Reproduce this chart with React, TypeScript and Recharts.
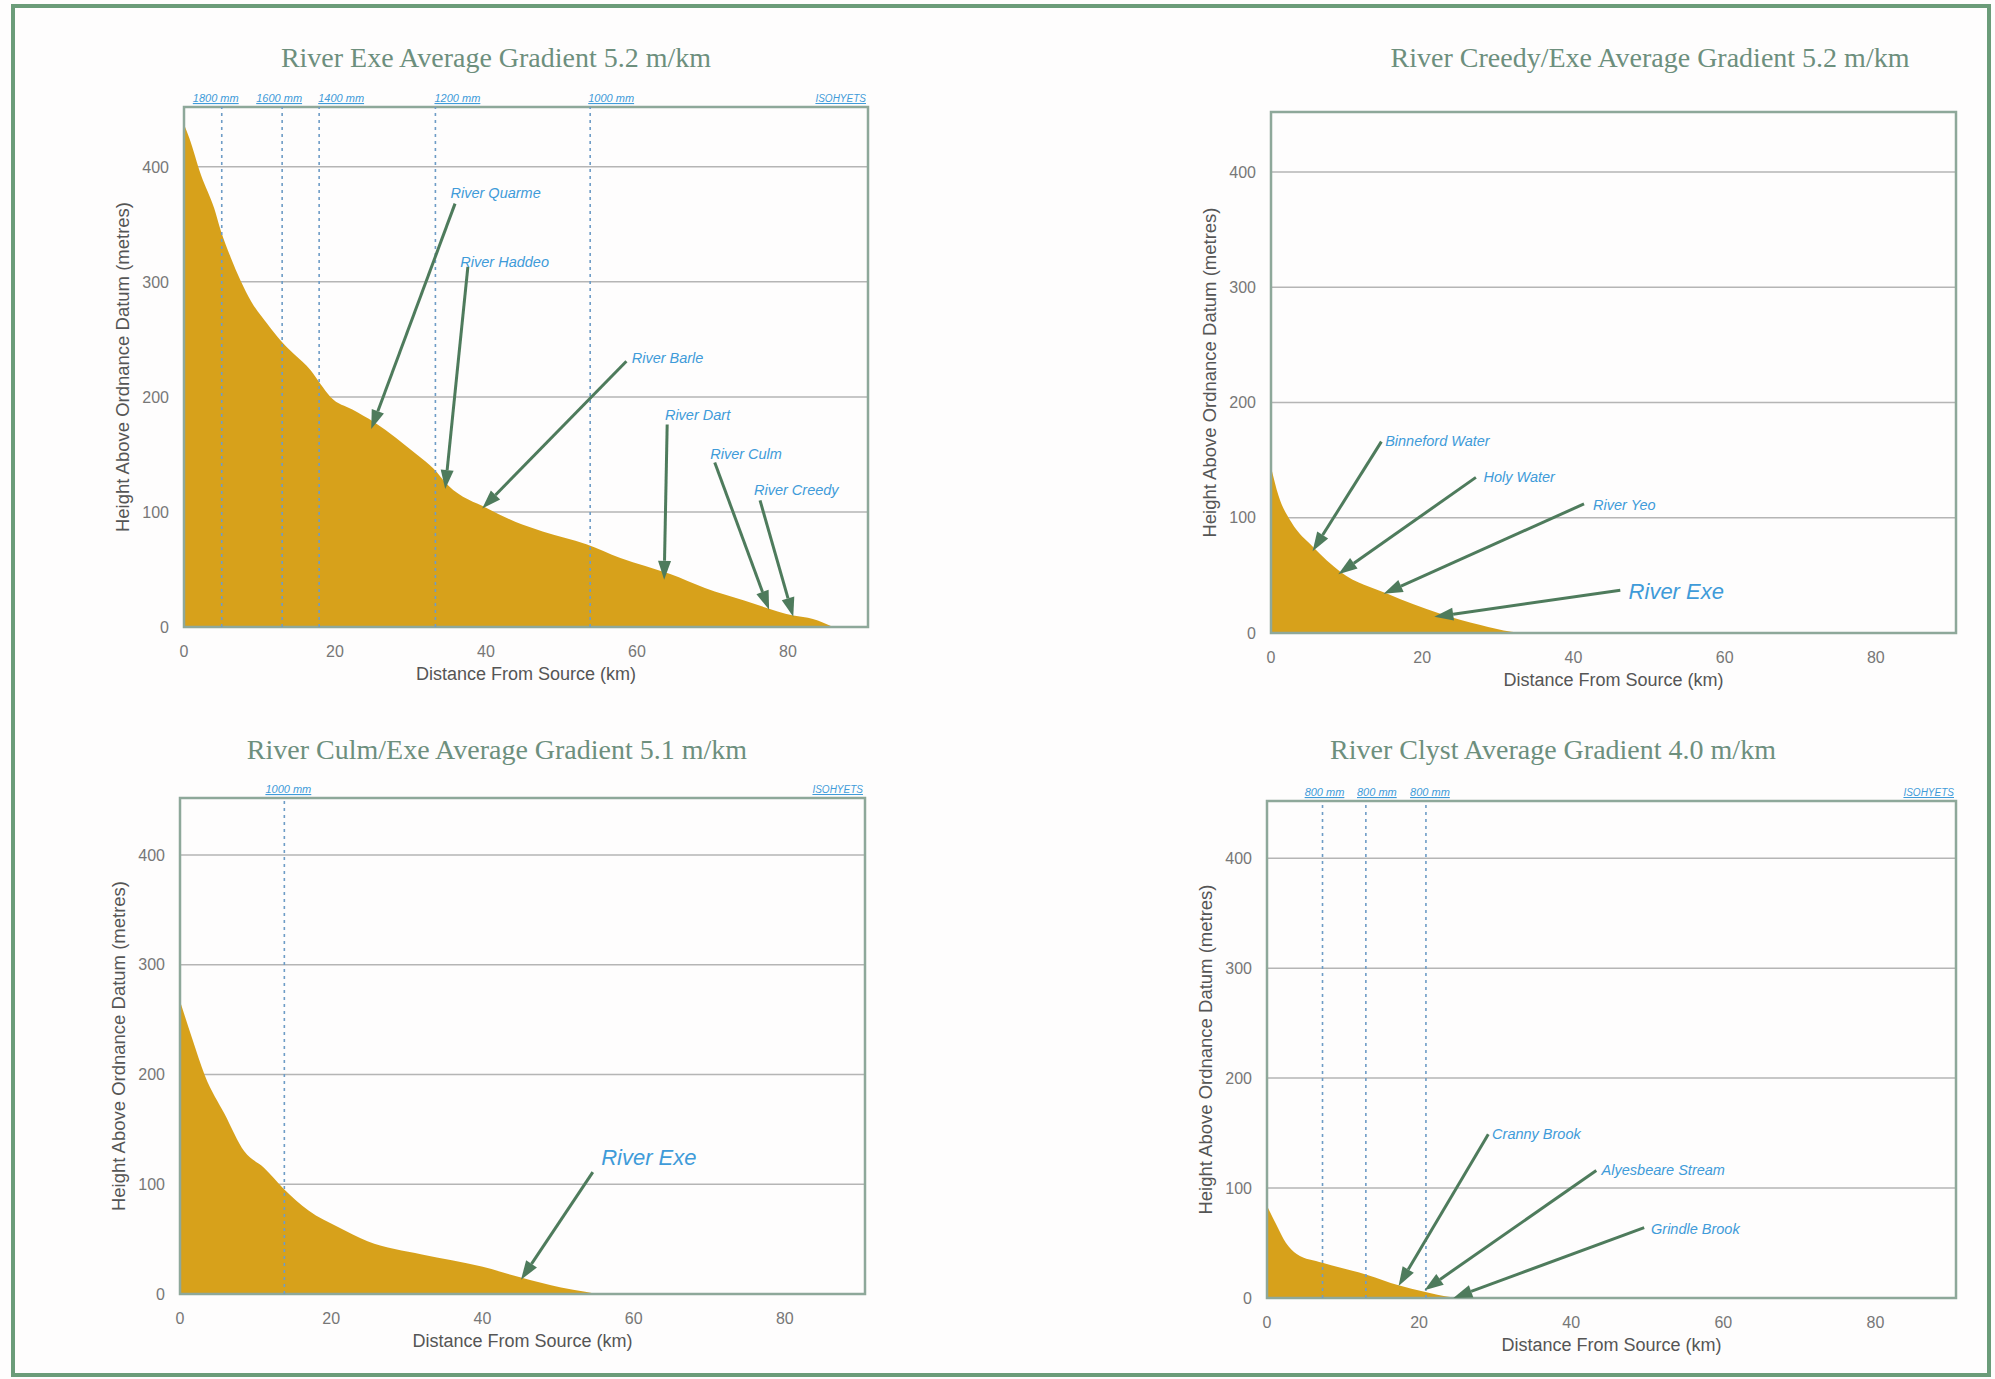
import React from "react";
import {
  AreaChart,
  Area,
  XAxis,
  YAxis,
  CartesianGrid,
  ReferenceLine,
  ReferenceArea,
  ReferenceDot,
} from "recharts";

// shared axes
const X_MAX = 90.6;
const Y_MAX = 452;
const xTicks = [0, 20, 40, 60, 80];
const yTicks = [0, 100, 200, 300, 400];

// River Exe long profile
const exeKm = [0, 0.7, 2.25, 4.0, 4.9, 6.2, 7.5, 8.9, 11.1, 12.8, 14.6, 16.8, 18.1, 19.4, 22.3, 25.2, 31, 33, 35, 40.2, 44.8, 47.5, 53.3, 57.8, 64.4, 69, 74.2, 80.7, 83.3, 84.6, 86];
const exeHeight = [437, 425, 393, 364, 344, 321, 301, 283, 263, 249, 237, 223, 211, 200, 189, 178, 149, 138, 123, 103, 89, 83, 72, 60, 46, 34, 23, 10, 7, 4, 0];
const exeIsoKm = [5.0, 13.0, 17.9, 33.3, 53.8];
const exeIsoText = ["1800 mm", "1600 mm", "1400 mm", "1200 mm", "1000 mm"];
const exeTribs = ["River Quarme", "River Haddeo", "River Barle", "River Dart", "River Culm", "River Creedy"];
const exeTribText = [[35.3, 377], [36.6, 317], [59.3, 234], [63.7, 184], [69.7, 150], [75.5, 119]];
const exeTribFrom = [[35.9, 368], [37.6, 313], [58.6, 231], [64, 176], [70.3, 143], [76.3, 110]];
const exeTribTo = [[24.8, 172], [34.6, 120], [39.5, 103], [63.6, 41], [77.5, 15], [80.7, 9]];

// River Creedy / Exe
const creedyKm = [0, 1, 2.7, 5.5, 9.2, 15.4, 22.3, 27.7, 31.8, 33];
const creedyHeight = [144, 119, 96, 75, 53, 34, 17, 7, 1, 0];
const creedyTribs = ["Binneford Water", "Holy Water", "River Yeo", "River Exe"];
const creedyTribText = [[15.1, 167], [28.1, 135], [42.6, 111], [47.3, 36]];
const creedyTribFrom = [[14.6, 166], [27.1, 135], [41.4, 112], [46.2, 37]];
const creedyTribTo = [[5.5, 71], [8.9, 51], [14.9, 34], [21.6, 14]];

// River Culm / Exe
const culmKm = [0, 1.6, 3.3, 5.9, 8.5, 11.1, 13.7, 17, 20.9, 24.8, 32, 39.9, 45.1, 50.4, 53.6, 55];
const culmHeight = [267, 233, 199, 164, 130, 115, 96, 76, 61, 48, 36, 25, 15, 6, 2, 0];
const culmIsoKm = [13.8];
const culmIsoText = ["1000 mm"];
const culmTribs = ["River Exe"];
const culmTribText = [[55.7, 124]];
const culmTribFrom = [[54.6, 111]];
const culmTribTo = [[45.1, 13]];

// River Clyst
const clystKm = [0, 1.2, 2.5, 3.9, 7.3, 13.2, 17.3, 20.7, 24.1, 26];
const clystHeight = [84, 67, 50, 40, 32, 21, 11.5, 5.7, 1, 0];
const clystIsoKm = [7.3, 13.0, 20.9];
const clystIsoText = ["800 mm", "800 mm", "800 mm"];
const clystTribs = ["Cranny Brook", "Alyesbeare Stream", "Grindle Brook"];
const clystTribText = [[29.6, 149], [44, 116], [50.5, 63]];
const clystTribFrom = [[29.1, 149], [43.3, 116], [49.6, 64]];
const clystTribTo = [[17.3, 11], [20.7, 7], [24.5, 0]];

const SANS = "'Liberation Sans', Arial, sans-serif";
const SERIF = "'Liberation Serif', 'Times New Roman', serif";
const FILL = "#D7A11B";
const FRAME = "#8ea89a";
const BLUE = "#3f9bd9";
const ARROW = "#4e7b5c";

const toRows = (km: number[], h: number[]) => km.map((k, i) => ({ km: k, h: h[i] }));

function Arrow(p: any) {
  const { x1, y1, x2, y2 } = p;
  const a = Math.atan2(y2 - y1, x2 - x1);
  const len = 19;
  const half = 6.5;
  const bx = x2 - len * Math.cos(a);
  const by = y2 - len * Math.sin(a);
  const pts = `${x2},${y2} ${bx - half * Math.sin(a)},${by + half * Math.cos(a)} ${bx + half * Math.sin(a)},${by - half * Math.cos(a)}`;
  return (
    <g>
      <line x1={x1} y1={y1} x2={bx} y2={by} stroke={ARROW} strokeWidth={3} />
      <polygon points={pts} fill={ARROW} />
    </g>
  );
}

interface PanelProps {
  left: number;
  top: number;
  plotW: number;
  plotH: number;
  title: string;
  titleX: number;
  titleY: number;
  km: number[];
  height: number[];
  isoKm?: number[];
  isoText?: string[];
  isoDx?: number[];
  tribs: string[];
  tribText: number[][];
  tribFrom: number[][];
  tribTo: number[][];
  bigLast?: boolean;
}

function Panel({
  left,
  top,
  plotW,
  plotH,
  title,
  titleX,
  titleY,
  km,
  height,
  isoKm = [],
  isoText = [],
  isoDx = [],
  tribs,
  tribText,
  tribFrom,
  tribTo,
  bigLast = false,
}: PanelProps) {
  const data = toRows(km, height);
  const yAxisW = 100;
  const mTop = 40;
  const xAxisH = 70;

  const xTitle = (props: any) => {
    const vb = props.viewBox;
    return (
      <text x={vb.x + vb.width / 2} y={vb.y + 47} textAnchor="middle" dominantBaseline="central" fontSize={18} fontFamily={SANS} fill="#555">
        Distance From Source (km)
      </text>
    );
  };
  const yTitle = (props: any) => {
    const vb = props.viewBox;
    const cx = vb.x + vb.width - 62;
    const cy = vb.y + vb.height / 2;
    return (
      <text x={cx} y={cy} transform={`rotate(-90 ${cx} ${cy})`} textAnchor="middle" dominantBaseline="central" fontSize={18.5} fontFamily={SANS} fill="#555">
        Height Above Ordnance Datum (metres)
      </text>
    );
  };

  return (
    <>
      <div
        style={{
          position: "absolute",
          left: titleX,
          top: titleY,
          transform: "translate(-50%, -50%)",
          whiteSpace: "nowrap",
          fontFamily: SERIF,
          fontSize: 28,
          color: "#6d8f7d",
        }}
      >
        {title}
      </div>
      <div style={{ position: "absolute", left: left - yAxisW, top: top - mTop }}>
        <AreaChart
          width={plotW + yAxisW + 10}
          height={plotH + mTop + xAxisH}
          data={data}
          margin={{ top: mTop, right: 10, bottom: 0, left: 0 }}
        >
          <CartesianGrid vertical={false} stroke="#b5b5b5" strokeWidth={1.5} />
          <XAxis
            type="number"
            dataKey="km"
            domain={[0, X_MAX]}
            ticks={xTicks}
            interval={0}
            height={xAxisH}
            axisLine={false}
            tickLine={false}
            tickMargin={13}
            tick={{ fill: "#777", fontSize: 16, fontFamily: SANS }}
            label={{ content: xTitle }}
          />
          <YAxis
            type="number"
            domain={[0, Y_MAX]}
            ticks={yTicks}
            interval={0}
            width={yAxisW}
            axisLine={false}
            tickLine={false}
            tickMargin={9}
            tick={{ fill: "#777", fontSize: 16, fontFamily: SANS }}
            label={{ content: yTitle }}
          />
          <Area
            type="monotone"
            dataKey="h"
            stroke="none"
            fill={FILL}
            fillOpacity={1}
            isAnimationActive={false}
          />
          {isoKm.map((k, i) => (
            <ReferenceLine
              key={`iso${i}`}
              x={k}
              stroke="#6e9cc6"
              strokeWidth={1.6}
              strokeDasharray="3 4"
              label={{
                content: (p: any) => (
                  <text
                    x={p.viewBox.x + (isoDx[i] || 0)}
                    y={p.viewBox.y - 5}
                    textAnchor="middle"
                    fontSize={11}
                    fontStyle="italic"
                    fontFamily={SANS}
                    fill={BLUE}
                    textDecoration="underline"
                  >
                    {isoText[i]}
                  </text>
                ),
              }}
            />
          ))}
          {isoKm.length > 0 && (
            <ReferenceLine
              x={X_MAX}
              stroke="none"
              label={{
                content: (p: any) => (
                  <text
                    x={p.viewBox.x - 2}
                    y={p.viewBox.y - 5}
                    textAnchor="end"
                    fontSize={10}
                    fontStyle="italic"
                    fontFamily={SANS}
                    fill={BLUE}
                    textDecoration="underline"
                  >
                    ISOHYETS
                  </text>
                ),
              }}
            />
          )}
          <ReferenceArea
            x1={0}
            x2={X_MAX}
            y1={0}
            y2={Y_MAX}
            fill="none"
            fillOpacity={0}
            stroke={FRAME}
            strokeWidth={2.5}
          />
          {tribs.map((name, i) => (
            <ReferenceLine
              key={`arr${i}`}
              segment={[
                { x: tribFrom[i][0], y: tribFrom[i][1] },
                { x: tribTo[i][0], y: tribTo[i][1] },
              ]}
              shape={Arrow}
            />
          ))}
          {tribs.map((name, i) => {
            const big = bigLast && i === tribs.length - 1;
            return (
              <ReferenceDot
                key={`lbl${i}`}
                x={tribText[i][0]}
                y={tribText[i][1]}
                r={0}
                shape={(p: any) => (
                  <text
                    x={p.cx}
                    y={p.cy}
                    dominantBaseline="central"
                    fontSize={big ? 22 : 14.5}
                    fontStyle="italic"
                    fontFamily={SANS}
                    fill={BLUE}
                  >
                    {name}
                  </text>
                )}
              />
            );
          })}
        </AreaChart>
      </div>
    </>
  );
}

export default function App() {
  return (
    <div
      style={{
        position: "relative",
        width: 1995,
        height: 1379,
        background: "#fefdfd",
        overflow: "hidden",
      }}
    >
      <style>{"body{margin:0}"}</style>
      <div
        style={{
          position: "absolute",
          left: 11,
          top: 4,
          width: 1980,
          height: 1373,
          border: "4px solid #6b9c79",
          boxSizing: "border-box",
        }}
      />
      <Panel
        left={184}
        top={107}
        plotW={684}
        plotH={520}
        title="River Exe Average Gradient 5.2 m/km"
        titleX={496}
        titleY={58}
        km={exeKm}
        height={exeHeight}
        isoKm={exeIsoKm}
        isoText={exeIsoText}
        isoDx={[-6, -3, 22, 22, 21]}
        tribs={exeTribs}
        tribText={exeTribText}
        tribFrom={exeTribFrom}
        tribTo={exeTribTo}
      />
      <Panel
        left={1271}
        top={112}
        plotW={685}
        plotH={521}
        title="River Creedy/Exe Average Gradient 5.2 m/km"
        titleX={1650}
        titleY={58}
        km={creedyKm}
        height={creedyHeight}
        tribs={creedyTribs}
        tribText={creedyTribText}
        tribFrom={creedyTribFrom}
        tribTo={creedyTribTo}
        bigLast
      />
      <Panel
        left={180}
        top={798}
        plotW={685}
        plotH={496}
        title="River Culm/Exe Average Gradient 5.1 m/km"
        titleX={497}
        titleY={750}
        km={culmKm}
        height={culmHeight}
        isoKm={culmIsoKm}
        isoText={culmIsoText}
        isoDx={[4]}
        tribs={culmTribs}
        tribText={culmTribText}
        tribFrom={culmTribFrom}
        tribTo={culmTribTo}
        bigLast
      />
      <Panel
        left={1267}
        top={801}
        plotW={689}
        plotH={497}
        title="River Clyst Average Gradient 4.0 m/km"
        titleX={1553}
        titleY={750}
        km={clystKm}
        height={clystHeight}
        isoKm={clystIsoKm}
        isoText={clystIsoText}
        isoDx={[2, 11, 4]}
        tribs={clystTribs}
        tribText={clystTribText}
        tribFrom={clystTribFrom}
        tribTo={clystTribTo}
      />
    </div>
  );
}
